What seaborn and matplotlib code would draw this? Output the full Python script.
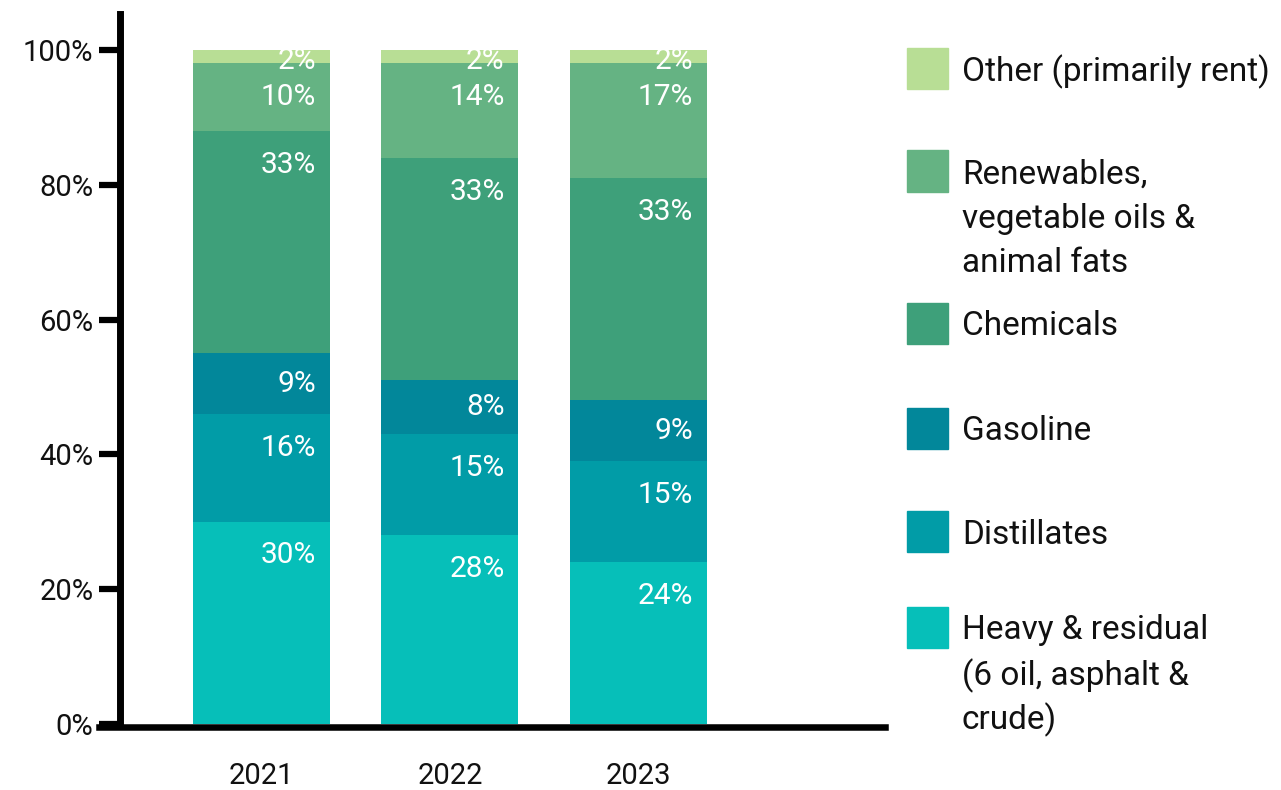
import matplotlib
matplotlib.use("Agg")
import matplotlib.pyplot as plt
import seaborn as sns
import numpy as np
import pandas as pd
from matplotlib.patches import Rectangle

# Share of refinery output by product group (%)
years = ["2021", "2022", "2023"]
heavy = [30, 28, 24]
distillates = [16, 15, 15]
gasoline = [9, 8, 9]
chemicals = [33, 33, 33]
renewables = [10, 14, 17]
other = [2, 2, 2]

series_names = [
    "Heavy & residual\n(6 oil, asphalt &\ncrude)",
    "Distillates",
    "Gasoline",
    "Chemicals",
    "Renewables,\nvegetable oils &\nanimal fats",
    "Other (primarily rent)",
]
series_values = [heavy, distillates, gasoline, chemicals, renewables, other]
colors = ["#06bfb9", "#019ca7", "#02879a", "#3ea07a", "#65b383", "#b8de95"]
y_ticks = [0, 20, 40, 60, 80, 100]

sns.set_theme(style="white")
plt.rcParams["font.family"] = ["Roboto", "DejaVu Sans"]

W, H = 1281, 790
fig = plt.figure(figsize=(W / 100, H / 100), dpi=100)
ax = fig.add_axes([99 / W, 1 - 724 / H, 786 / W, 710 / H])

values = np.array(series_values, dtype=float)
tops = values.cumsum(axis=0)
bottoms = tops - values
bar_width = 0.727

# Stack by drawing cumulative totals, tallest first, each layer covering the next
for k in range(len(series_names) - 1, -1, -1):
    df = pd.DataFrame({"year": years, "value": tops[k]})
    sns.barplot(data=df, x="year", y="value", color=colors[k], saturation=1,
                width=bar_width, errorbar=None, linewidth=0, ax=ax)

# Value labels: just under the top of each segment, centred for mid-size ones
for k in range(len(series_names)):
    for i in range(len(years)):
        top, bot = tops[k][i], bottoms[k][i]
        yc = min(top - 1.7, max((top + bot) / 2, top - 5.0))
        ax.annotate(f"{values[k][i]:.0f}%", xy=(i + bar_width / 2, yc),
                    xytext=(-10, 0), textcoords="offset points",
                    ha="right", va="center", color="white",
                    fontsize=21.5, fontweight="normal")

ax.set_xlim(-0.862, 3.308)
ax.set_ylim(0, 105.34)
for side in ("top", "right"):
    ax.spines[side].set_visible(False)
ax.spines["left"].set_position(("data", -0.753))
ax.spines["left"].set_linewidth(5)
ax.spines["bottom"].set_linewidth(4.7)
ax.spines["bottom"].set_position(("outward", 2.5))
for side in ("left", "bottom"):
    ax.spines[side].set_color("black")

ax.set_yticks(y_ticks)
ax.set_yticklabels([f"{t}%" for t in y_ticks])
ax.tick_params(axis="y", left=True, length=14.8, width=4.5, color="black",
               labelsize=21, pad=4, labelcolor="#111111")
ax.tick_params(axis="x", length=0, labelsize=21, pad=25, labelcolor="#111111")
ax.set_xlabel("")
ax.set_ylabel("")

# Legend: keys aligned with the first line of each label, top entry = top of stack
key_centres_px = [68, 171, 323, 428, 531, 627]
line_step_px = 44.5
for yc, k in zip(key_centres_px, reversed(range(len(series_names)))):
    fig.patches.append(Rectangle((907 / W, 1 - (yc + 20.5) / H), 41 / W, 41 / H,
                                 transform=fig.transFigure, color=colors[k]))
    for j, line in enumerate(series_names[k].split("\n")):
        fig.text(962 / W, 1 - (yc + j * line_step_px) / H, line,
                 ha="left", va="center_baseline", fontsize=24, color="#111111")

fig.savefig("out.png", dpi=100)
